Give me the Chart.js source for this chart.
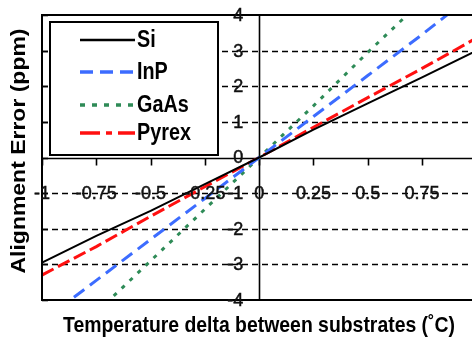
<!DOCTYPE html>
<html>
<head>
<meta charset="utf-8">
<title>Alignment error vs temperature delta</title>
<script src="https://cdn.jsdelivr.net/npm/chart.js@4.4.1/dist/chart.umd.min.js"></script>
<style>
    html, body { margin: 0; padding: 0; background: #fff; }
    canvas { display: block; }
</style>
</head>
<body>
<canvas id="alignChart" width="472" height="339"></canvas>
<script>
// Temperature delta (°C) and alignment error (ppm) per substrate
const tempDelta = [-1, -0.75, -0.5, -0.25, 0, 0.25, 0.5, 0.75, 1];
const siError    = [-2.95, -2.2, -1.5, -0.75, 0, 0.78, 1.52, 2.25, 3.0];
const inpError   = [-4.6, -3.45, -2.3, -1.15, 0, 1.15, 2.3, 3.45, 4.65];
const gaasError  = [-5.8, -4.35, -2.9, -1.45, 0, 1.45, 2.95, 4.4, 5.9];
const pyrexError = [-3.3, -2.5, -1.65, -0.82, 0, 0.85, 1.68, 2.5, 3.35];

const xTickValues = [-1, -0.75, -0.5, -0.25, 0, 0.25, 0.5, 0.75, 1];
const xTickLabels = ['-1', '-0.75', '-0.5', '-0.25', '0', '0.25', '0.5', '0.75', '1'];
const yTickValues = [4, 3, 2, 1, 0, -1, -2, -3, -4];
const gridValues = [3, 2, 1, -1, -2, -3];

const FONT = '"Liberation Sans", Arial, sans-serif';

function toPoints(ys) {
    return tempDelta.map((x, i) => ({ x: x, y: ys[i] }));
}

// Legend entries with their own sample dash patterns
const legendItems = [
    { text: 'Si',    color: '#000000', width: 2.5, dash: [] },
    { text: 'InP',   color: '#3c6cff', width: 3.5, dash: [13, 7] },
    { text: 'GaAs',  color: '#2e8b57', width: 3.5, dash: [5, 7] },
    { text: 'Pyrex', color: '#ff1010', width: 3.5, dash: [20, 6, 6, 6] }
];

// slightly heavier text than the plain regular weight
function heavyText(ctx, text, x, y) {
    ctx.fillText(text, x, y);
    ctx.strokeText(text, x, y);
}

// Grid, center axes, frame, tick labels, legend and titles
const axesPlugin = {
    id: 'crossAxes',
    beforeDatasetsDraw(chart) {
        const ctx = chart.ctx;
        const xs = chart.scales.x, ys = chart.scales.y;
        const area = chart.chartArea;
        ctx.save();
        ctx.strokeStyle = '#000';
        ctx.lineWidth = 1.6;
        ctx.setLineDash([6, 4]);
        gridValues.forEach(v => {
            const py = Math.round(ys.getPixelForValue(v)) + 0.5;
            ctx.beginPath();
            ctx.moveTo(area.left, py);
            ctx.lineTo(area.right, py);
            ctx.stroke();
        });
        ctx.setLineDash([]);
        const x0 = Math.round(xs.getPixelForValue(0)) + 0.5;
        const y0 = Math.round(ys.getPixelForValue(0)) + 0.5;
        ctx.beginPath();
        ctx.moveTo(x0, area.top);
        ctx.lineTo(x0, area.bottom);
        ctx.moveTo(area.left, y0);
        ctx.lineTo(area.right, y0);
        ctx.stroke();
        // tick marks hanging below the horizontal axis
        xTickValues.forEach(v => {
            const px = Math.round(xs.getPixelForValue(v)) + 0.5;
            ctx.beginPath();
            ctx.moveTo(px, y0);
            ctx.lineTo(px, y0 + 7);
            ctx.stroke();
        });
        ctx.restore();
    },
    afterDatasetsDraw(chart) {
        const ctx = chart.ctx;
        const xs = chart.scales.x, ys = chart.scales.y;
        const area = chart.chartArea;
        ctx.save();

        // outer frame: top, left, bottom
        ctx.strokeStyle = '#000';
        ctx.lineWidth = 2;
        ctx.beginPath();
        ctx.moveTo(area.right + 2, area.top);
        ctx.lineTo(area.left, area.top);
        ctx.lineTo(area.left, area.bottom);
        ctx.lineTo(area.right + 2, area.bottom);
        ctx.stroke();
        ctx.lineWidth = 1.6;
        yTickValues.forEach(v => {
            const py = Math.round(ys.getPixelForValue(v)) + 0.5;
            ctx.beginPath();
            ctx.moveTo(area.left, py);
            ctx.lineTo(area.left + 6, py);
            ctx.stroke();
        });

        // x tick labels sit on the -1 grid line
        ctx.fillStyle = '#111';
        ctx.strokeStyle = '#111';
        ctx.lineWidth = 0.5;
        ctx.font = '18px ' + FONT;
        ctx.textAlign = 'center';
        ctx.textBaseline = 'middle';
        const labelY = ys.getPixelForValue(-1) + 1;
        xTickValues.forEach((v, i) => {
            heavyText(ctx, xTickLabels[i], xs.getPixelForValue(v), labelY);
        });

        // y tick labels just left of the vertical axis
        ctx.textAlign = 'right';
        const x0 = xs.getPixelForValue(0);
        yTickValues.forEach(v => {
            heavyText(ctx, String(v), x0 - 16, ys.getPixelForValue(v) + 1);
        });

        // legend box
        const lx = 50, ly = 22, lw = 168, lh = 133;
        ctx.fillStyle = '#fff';
        ctx.fillRect(lx, ly, lw, lh);
        ctx.strokeStyle = '#000';
        ctx.lineWidth = 2;
        ctx.strokeRect(lx, ly, lw, lh);
        const rowY = [40, 72, 105, 133];
        legendItems.forEach((item, i) => {
            const y = rowY[i];
            ctx.strokeStyle = item.color;
            ctx.lineWidth = item.width;
            ctx.setLineDash(item.dash);
            ctx.beginPath();
            ctx.moveTo(80, y);
            ctx.lineTo(135, y);
            ctx.stroke();
            ctx.setLineDash([]);
            ctx.save();
            ctx.translate(137, y + 1);
            ctx.scale(0.86, 1);
            ctx.fillStyle = '#000';
            ctx.font = 'bold 23px ' + FONT;
            ctx.textAlign = 'left';
            ctx.textBaseline = 'middle';
            ctx.fillText(item.text, 0, 0);
            ctx.restore();
        });

        // axis titles, condensed to fit
        ctx.fillStyle = '#000';
        ctx.textAlign = 'center';
        ctx.textBaseline = 'middle';
        ctx.font = 'bold 22px ' + FONT;
        const xTitle = 'Temperature delta between substrates (\u02DAC)';
        let w = ctx.measureText(xTitle).width;
        ctx.save();
        ctx.translate(259, 326);
        ctx.scale(392 / w, 1);
        ctx.fillText(xTitle, 0, 0);
        ctx.restore();

        ctx.font = 'bold 21px ' + FONT;
        const yTitle = 'Alignment Error (ppm)';
        w = ctx.measureText(yTitle).width;
        ctx.save();
        ctx.translate(19, 151);
        ctx.rotate(-Math.PI / 2);
        ctx.scale(245 / w, 1);
        ctx.fillText(yTitle, 0, 0);
        ctx.restore();

        ctx.restore();
    }
};

new Chart(document.getElementById('alignChart'), {
    type: 'line',
    data: {
        datasets: [
            {
                label: 'Si',
                data: toPoints(siError),
                borderColor: '#000000',
                borderWidth: 2,
                pointRadius: 0,
                tension: 0
            },
            {
                label: 'InP',
                data: toPoints(inpError),
                borderColor: '#3c6cff',
                borderWidth: 3,
                borderDash: [13, 7],
                pointRadius: 0,
                tension: 0
            },
            {
                label: 'GaAs',
                data: toPoints(gaasError),
                borderColor: '#2e8b57',
                borderWidth: 3,
                borderDash: [4, 7],
                pointRadius: 0,
                tension: 0
            },
            {
                label: 'Pyrex',
                data: toPoints(pyrexError),
                borderColor: '#ff1010',
                borderWidth: 3,
                borderDash: [13, 5],
                pointRadius: 0,
                tension: 0
            }
        ]
    },
    options: {
        responsive: false,
        animation: false,
        devicePixelRatio: 1,
        layout: { padding: { left: 42, top: 15, right: 0, bottom: 39 } },
        plugins: {
            legend: { display: false },
            tooltip: { enabled: false }
        },
        scales: {
            x: { type: 'linear', min: -1, max: 0.98, display: false },
            y: { type: 'linear', min: -4, max: 4, display: false }
        }
    },
    plugins: [axesPlugin]
});
</script>
</body>
</html>
